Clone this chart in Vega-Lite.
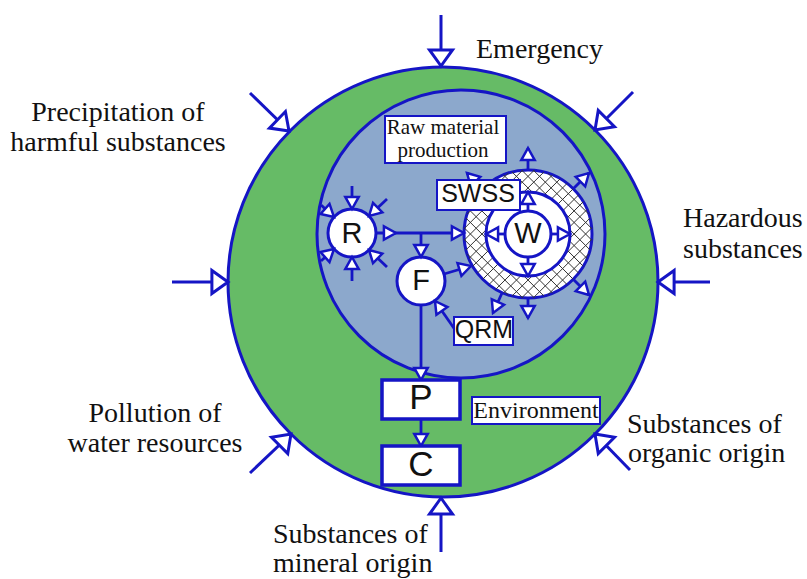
{
  "$schema": "https://vega.github.io/schema/vega-lite/v6.json",
  "width": 807,
  "height": 579,
  "padding": 0,
  "autosize": {"type": "none"},
  "background": "#ffffff",
  "config": {"view": {"stroke": null}},
  "datasets": {
    "circlesBack": [
      {"name": "Environment", "x": 443, "y": 282, "r": 215, "kind": "env"},
      {"name": "Production", "x": 461, "y": 234, "r": 144, "kind": "inner"},
      {"name": "SWSS ring", "x": 528, "y": 234, "r": 64, "kind": "white"}
    ],
    "hatch": [{"name": "SWSS ring", "x": 528, "y": 234}],
    "circlesFront": [
      {"name": "W ring", "x": 528, "y": 234, "r": 42, "kind": "white"},
      {"name": "W", "x": 528, "y": 234, "r": 23, "kind": "white"},
      {"name": "R", "x": 352, "y": 233, "r": 24, "kind": "white"},
      {"name": "F", "x": 421, "y": 281, "r": 24, "kind": "white"}
    ],
    "outerLinks": [
      {"x": 441, "y": 15, "x2": 441, "y2": 66},
      {"x": 250, "y": 93, "x2": 289, "y2": 131},
      {"x": 633, "y": 92, "x2": 595, "y2": 130},
      {"x": 172, "y": 282, "x2": 228, "y2": 282},
      {"x": 710, "y": 282, "x2": 658, "y2": 282},
      {"x": 250, "y": 473, "x2": 291, "y2": 434},
      {"x": 630, "y": 470, "x2": 595, "y2": 434},
      {"x": 441, "y": 552, "x2": 441, "y2": 498}
    ],
    "outerHeads": [
      {"x": 441, "y": 66, "a": 180},
      {"x": 289, "y": 131, "a": 134},
      {"x": 595, "y": 130, "a": 225},
      {"x": 228, "y": 282, "a": 90},
      {"x": 658, "y": 282, "a": 270},
      {"x": 291, "y": 434, "a": 45},
      {"x": 595, "y": 434, "a": 315},
      {"x": 441, "y": 498, "a": 0}
    ],
    "innerLinks": [
      {"x": 352, "y": 186, "x2": 352, "y2": 209},
      {"x": 387, "y": 199, "x2": 369, "y2": 216},
      {"x": 321, "y": 205, "x2": 334, "y2": 217},
      {"x": 321, "y": 261, "x2": 334, "y2": 249},
      {"x": 352, "y": 281, "x2": 352, "y2": 257},
      {"x": 387, "y": 267, "x2": 369, "y2": 250},
      {"x": 376, "y": 233, "x2": 464, "y2": 233},
      {"x": 421, "y": 233, "x2": 421, "y2": 257},
      {"x": 444, "y": 274, "x2": 471, "y2": 266},
      {"x": 458, "y": 334, "x2": 435, "y2": 301},
      {"x": 421, "y": 305, "x2": 421, "y2": 380},
      {"x": 421, "y": 419, "x2": 421, "y2": 446},
      {"x": 528, "y": 211, "x2": 528, "y2": 192},
      {"x": 528, "y": 257, "x2": 528, "y2": 276},
      {"x": 505, "y": 234, "x2": 486, "y2": 234},
      {"x": 551, "y": 234, "x2": 570, "y2": 234},
      {"x": 528, "y": 170, "x2": 528, "y2": 148},
      {"x": 528, "y": 298, "x2": 528, "y2": 318},
      {"x": 573, "y": 189, "x2": 589, "y2": 173},
      {"x": 573, "y": 279, "x2": 589, "y2": 295},
      {"x": 502, "y": 293, "x2": 493, "y2": 313},
      {"x": 483, "y": 189, "x2": 467, "y2": 173}
    ],
    "innerHeads": [
      {"x": 352, "y": 209, "a": 180},
      {"x": 369, "y": 216, "a": 226},
      {"x": 334, "y": 217, "a": 132},
      {"x": 334, "y": 249, "a": 48},
      {"x": 352, "y": 257, "a": 0},
      {"x": 369, "y": 250, "a": 314},
      {"x": 396, "y": 233, "a": 90},
      {"x": 464, "y": 233, "a": 90},
      {"x": 421, "y": 257, "a": 180},
      {"x": 471, "y": 266, "a": 73},
      {"x": 435, "y": 301, "a": 325},
      {"x": 421, "y": 380, "a": 180},
      {"x": 421, "y": 446, "a": 180},
      {"x": 528, "y": 192, "a": 0},
      {"x": 528, "y": 276, "a": 180},
      {"x": 486, "y": 234, "a": 270},
      {"x": 570, "y": 234, "a": 90},
      {"x": 528, "y": 148, "a": 0},
      {"x": 528, "y": 318, "a": 180},
      {"x": 589, "y": 173, "a": 45},
      {"x": 589, "y": 295, "a": 135},
      {"x": 493, "y": 313, "a": 204},
      {"x": 467, "y": 173, "a": 315}
    ],
    "thinBoxes": [
      {"name": "Raw material production", "x": 385, "y": 116, "x2": 506, "y2": 163},
      {"name": "SWSS", "x": 437, "y": 180, "x2": 520, "y2": 210},
      {"name": "QRM", "x": 454, "y": 317, "x2": 513, "y2": 345},
      {"name": "Environment", "x": 472, "y": 397, "x2": 600, "y2": 424}
    ],
    "thickBoxes": [
      {"name": "P", "x": 382, "y": 380, "x2": 460, "y2": 419},
      {"name": "C", "x": 382, "y": 446, "x2": 460, "y2": 485}
    ],
    "outerLeft": [
      {"text": "Emergency", "x": 476, "y": 58},
      {"text": "Hazardous", "x": 683, "y": 227},
      {"text": "substances", "x": 683, "y": 258},
      {"text": "Substances of", "x": 627, "y": 433},
      {"text": "organic origin", "x": 628, "y": 462},
      {"text": "Substances of", "x": 273, "y": 543},
      {"text": "mineral origin", "x": 273, "y": 572}
    ],
    "outerCenter": [
      {"text": "Precipitation of", "x": 118, "y": 121},
      {"text": "harmful substances", "x": 118, "y": 151},
      {"text": "Pollution of", "x": 155, "y": 422},
      {"text": "water resources", "x": 155, "y": 452}
    ],
    "serifLabels": [
      {"text": "Raw material", "x": 443, "y": 134},
      {"text": "production", "x": 443, "y": 157}
    ],
    "envLabel": [
      {"text": "Environment", "x": 536, "y": 418}
    ],
    "boxLabels": [
      {"text": "SWSS", "x": 478, "y": 202},
      {"text": "QRM", "x": 484, "y": 338}
    ],
    "nodeLabels": [
      {"text": "R", "x": 352, "y": 243},
      {"text": "W", "x": 528, "y": 243},
      {"text": "F", "x": 421, "y": 290}
    ],
    "bigLabels": [
      {"text": "P", "x": 421, "y": 409},
      {"text": "C", "x": 421, "y": 476}
    ]
  },
  "layer": [
    {
      "data": {"name": "circlesBack"},
      "mark": {"type": "point", "shape": "circle", "filled": true, "opacity": 1, "stroke": "#1515c5", "strokeWidth": 3},
      "encoding": {
        "x": {"field": "x", "type": "quantitative", "scale": {"domain": [0, 807], "nice": false, "zero": false}, "axis": null},
        "y": {"field": "y", "type": "quantitative", "scale": {"domain": [0, 579], "reverse": true, "nice": false, "zero": false}, "axis": null},
        "size": {"field": "r", "type": "quantitative", "scale": {"type": "pow", "exponent": 2, "domain": [0, 250], "range": [0, 250000]}, "legend": null},
        "fill": {"field": "kind", "type": "nominal", "scale": {"domain": ["env", "inner", "white"], "range": ["#66bb66", "#8ca8cc", "#ffffff"]}, "legend": null}
      }
    },
    {
      "data": {"name": "hatch"},
      "mark": {"type": "point", "filled": false, "opacity": 1, "stroke": "#333333", "strokeWidth": 1, "size": 16384,
        "shape": "M-0.951,0.309L-0.309,0.951M-0.997,0.084L-0.084,0.997M-0.995,-0.095L0.095,0.995M-0.969,-0.249L0.249,0.969M-0.924,-0.384L0.384,0.924M-0.864,-0.504L0.504,0.864M-0.791,-0.611L0.611,0.791M-0.707,-0.707L0.707,0.707M-0.611,-0.791L0.791,0.611M-0.504,-0.864L0.864,0.504M-0.384,-0.924L0.924,0.384M-0.249,-0.969L0.969,0.249M-0.095,-0.995L0.995,0.095M0.084,-0.997L0.997,-0.084M0.309,-0.951L0.951,-0.309M-0.951,-0.309L-0.309,-0.951M-0.997,-0.084L-0.084,-0.997M-0.995,0.095L0.095,-0.995M-0.969,0.249L0.249,-0.969M-0.924,0.384L0.384,-0.924M-0.864,0.504L0.504,-0.864M-0.791,0.611L0.611,-0.791M-0.707,0.707L0.707,-0.707M-0.611,0.791L0.791,-0.611M-0.504,0.864L0.864,-0.504M-0.384,0.924L0.924,-0.384M-0.249,0.969L0.969,-0.249M-0.095,0.995L0.995,-0.095M0.084,0.997L0.997,0.084M0.309,0.951L0.951,0.309"},
      "encoding": {
        "x": {"field": "x", "type": "quantitative"},
        "y": {"field": "y", "type": "quantitative"}
      }
    },
    {
      "data": {"name": "circlesFront"},
      "mark": {"type": "point", "shape": "circle", "filled": true, "opacity": 1, "stroke": "#1515c5", "strokeWidth": 3},
      "encoding": {
        "x": {"field": "x", "type": "quantitative"},
        "y": {"field": "y", "type": "quantitative"},
        "size": {"field": "r", "type": "quantitative", "legend": null},
        "fill": {"field": "kind", "type": "nominal", "legend": null}
      }
    },
    {
      "data": {"name": "outerLinks"},
      "mark": {"type": "rule", "stroke": "#1515c5", "strokeWidth": 3},
      "encoding": {
        "x": {"field": "x", "type": "quantitative"},
        "y": {"field": "y", "type": "quantitative"},
        "x2": {"field": "x2"},
        "y2": {"field": "y2"}
      }
    },
    {
      "data": {"name": "innerLinks"},
      "mark": {"type": "rule", "stroke": "#1515c5", "strokeWidth": 2.8},
      "encoding": {
        "x": {"field": "x", "type": "quantitative"},
        "y": {"field": "y", "type": "quantitative"},
        "x2": {"field": "x2"},
        "y2": {"field": "y2"}
      }
    },
    {
      "data": {"name": "outerHeads"},
      "mark": {"type": "point", "filled": true, "opacity": 1, "fill": "#ffffff", "stroke": "#1515c5", "strokeWidth": 3, "size": 529, "shape": "M0,0L1,1.4L-1,1.4Z"},
      "encoding": {
        "x": {"field": "x", "type": "quantitative"},
        "y": {"field": "y", "type": "quantitative"},
        "angle": {"field": "a", "type": "quantitative", "scale": null}
      }
    },
    {
      "data": {"name": "innerHeads"},
      "mark": {"type": "point", "filled": true, "opacity": 1, "fill": "#ffffff", "stroke": "#1515c5", "strokeWidth": 2.5, "size": 180, "shape": "M0,0L1,1.8L-1,1.8Z"},
      "encoding": {
        "x": {"field": "x", "type": "quantitative"},
        "y": {"field": "y", "type": "quantitative"},
        "angle": {"field": "a", "type": "quantitative", "scale": null}
      }
    },
    {
      "data": {"name": "thinBoxes"},
      "mark": {"type": "rect", "fill": "#ffffff", "stroke": "#1515c5", "strokeWidth": 2},
      "encoding": {
        "x": {"field": "x", "type": "quantitative"},
        "y": {"field": "y", "type": "quantitative"},
        "x2": {"field": "x2"},
        "y2": {"field": "y2"}
      }
    },
    {
      "data": {"name": "thickBoxes"},
      "mark": {"type": "rect", "fill": "#ffffff", "stroke": "#1515c5", "strokeWidth": 3.5},
      "encoding": {
        "x": {"field": "x", "type": "quantitative"},
        "y": {"field": "y", "type": "quantitative"},
        "x2": {"field": "x2"},
        "y2": {"field": "y2"}
      }
    },
    {
      "data": {"name": "outerLeft"},
      "mark": {"type": "text", "font": "Liberation Serif", "fontSize": 28, "align": "left", "baseline": "alphabetic", "color": "#111111"},
      "encoding": {
        "x": {"field": "x", "type": "quantitative"},
        "y": {"field": "y", "type": "quantitative"},
        "text": {"field": "text"}
      }
    },
    {
      "data": {"name": "outerCenter"},
      "mark": {"type": "text", "font": "Liberation Serif", "fontSize": 28, "align": "center", "baseline": "alphabetic", "color": "#111111"},
      "encoding": {
        "x": {"field": "x", "type": "quantitative"},
        "y": {"field": "y", "type": "quantitative"},
        "text": {"field": "text"}
      }
    },
    {
      "data": {"name": "serifLabels"},
      "mark": {"type": "text", "font": "Liberation Serif", "fontSize": 21, "align": "center", "baseline": "alphabetic", "color": "#111111"},
      "encoding": {
        "x": {"field": "x", "type": "quantitative"},
        "y": {"field": "y", "type": "quantitative"},
        "text": {"field": "text"}
      }
    },
    {
      "data": {"name": "envLabel"},
      "mark": {"type": "text", "font": "Liberation Serif", "fontSize": 24, "align": "center", "baseline": "alphabetic", "color": "#111111"},
      "encoding": {
        "x": {"field": "x", "type": "quantitative"},
        "y": {"field": "y", "type": "quantitative"},
        "text": {"field": "text"}
      }
    },
    {
      "data": {"name": "boxLabels"},
      "mark": {"type": "text", "font": "Liberation Sans", "fontSize": 25, "align": "center", "baseline": "alphabetic", "color": "#111111"},
      "encoding": {
        "x": {"field": "x", "type": "quantitative"},
        "y": {"field": "y", "type": "quantitative"},
        "text": {"field": "text"}
      }
    },
    {
      "data": {"name": "nodeLabels"},
      "mark": {"type": "text", "font": "Liberation Sans", "fontSize": 29, "align": "center", "baseline": "alphabetic", "color": "#111111"},
      "encoding": {
        "x": {"field": "x", "type": "quantitative"},
        "y": {"field": "y", "type": "quantitative"},
        "text": {"field": "text"}
      }
    },
    {
      "data": {"name": "bigLabels"},
      "mark": {"type": "text", "font": "Liberation Sans", "fontSize": 35, "align": "center", "baseline": "alphabetic", "color": "#111111"},
      "encoding": {
        "x": {"field": "x", "type": "quantitative"},
        "y": {"field": "y", "type": "quantitative"},
        "text": {"field": "text"}
      }
    }
  ]
}
